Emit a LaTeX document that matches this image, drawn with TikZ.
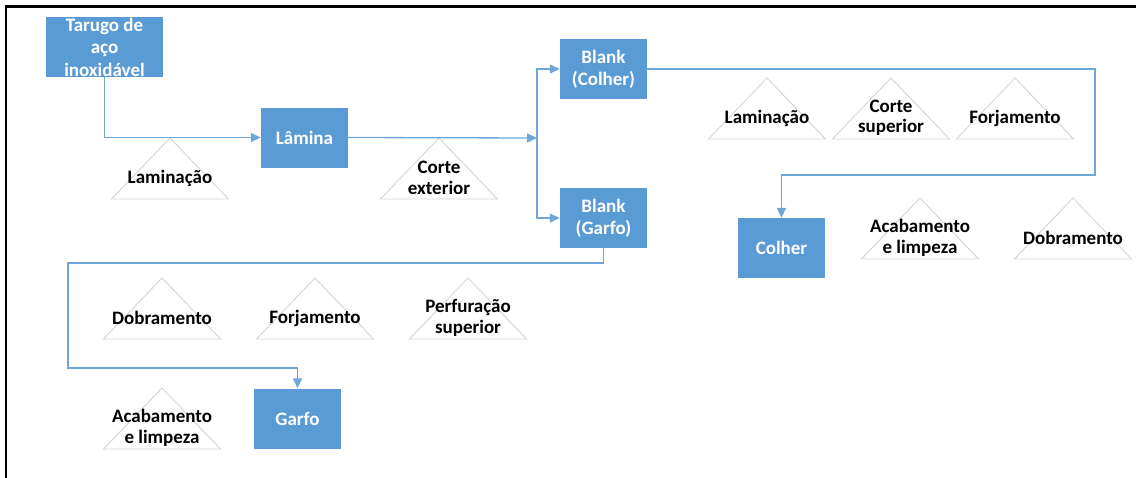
\documentclass[tikz,border=0pt]{standalone}
\usepackage{fontspec}
\setmainfont{Carlito}
\usepackage{tikz}
\usetikzlibrary{arrows.meta,positioning}
\definecolor{Blue}{HTML}{5B9BD5}
\definecolor{Line}{HTML}{6FA6DA}
\definecolor{Edge}{HTML}{D4D4D4}

\begin{document}
\begin{tikzpicture}[x=1pt,y=-1pt,
    part/.style={fill=Blue,text=white,minimum width=87pt,minimum height=60pt,
      inner sep=1pt,align=center,font=\fontsize{19}{22}\selectfont\bfseries},
    optxt/.style={align=center,inner sep=0pt,
      font=\fontsize{19}{20.5}\selectfont\bfseries},
    tri/.style={draw=Edge,line width=0.9pt,line join=miter},
    flow/.style={draw=Line,line width=1.3pt,
      -{Triangle[length=10pt,width=9pt]}},
    link/.style={draw=Line,line width=1.3pt}
  ]
    \useasboundingbox (0,0) rectangle (1136,477);
    \draw[line width=2.4pt] (6,478) -- (6,6.5) -- (1137,6.5);

    \foreach \ax/\ay/\nm/\txt in {
        170/138/lamA/{Laminação},
        439/138/corteA/{Corte\\exterior},
        767/78/lamC/{Laminação},
        891/78/corteC/{Corte\\superior},
        1015/78/forjC/{Forjamento},
        920/198/acabC/{Acabamento\\e limpeza},
        1073/198/dobrC/{Dobramento},
        162/278/dobrG/{Dobramento},
        315/278/forjG/{Forjamento},
        468/278/perfG/{Perfuração\\superior},
        162/388/acabG/{Acabamento\\e limpeza}} {
      \draw[tri] (\ax,\ay) -- ++(58.5,61) -- ++(-117,0) -- cycle;
      \node[optxt] (\nm) at (\ax,\ay+40) {\txt};
    }

    \node[part,minimum width=117pt,font=\fontsize{19}{22.5}\selectfont\bfseries]
      (tarugo) at (104.5,47) {Tarugo de\\aço\\inoxidável};
    \node[part] (lamina) at (304.5,137.5) {Lâmina};
    \node[part] (bcolher) at (603.5,69) {Blank\\(Colher)};
    \node[part] (bgarfo) at (603.5,218) {Blank\\(Garfo)};
    \node[part] (colher) at (781.5,248) {Colher};
    \node[part] (garfo) at (297.5,418.5) {Garfo};

    \coordinate (split) at (537,138);
    \draw[flow] (tarugo.south) |- (lamina.west);
    \draw[flow] (lamina.east) -- (split);
    \draw[flow] (split) |- (bcolher.west);
    \draw[flow] (split) |- (bgarfo.west);
    \draw[flow] (bcolher.east) -| (1095,175) -| (colher.north);
    \draw[flow] (bgarfo.south) |- (68,263) |- (297.5,368) -- (garfo.north);
  \end{tikzpicture}
\end{document}
